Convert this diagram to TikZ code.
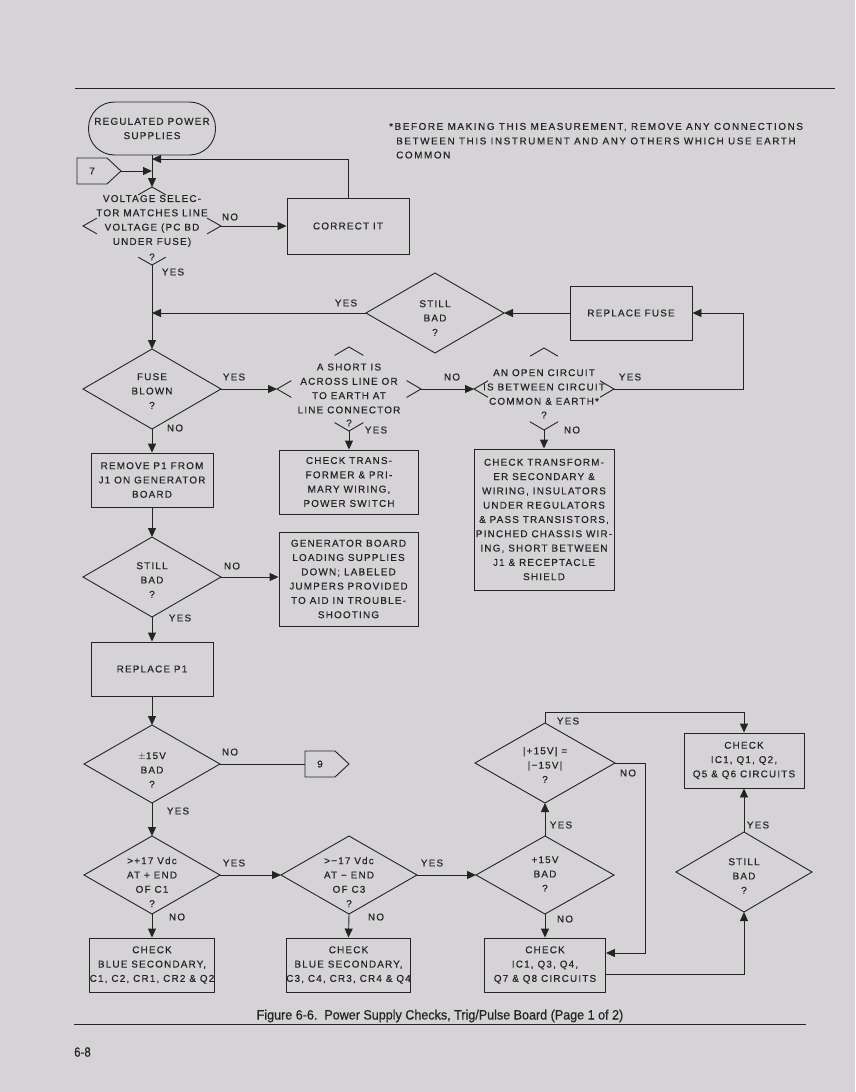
\documentclass[tikz,border=0pt]{standalone}
\usepackage{fontspec}
\setmainfont{Liberation Sans}
\newfontfamily\df{Liberation Sans}[LetterSpace=12,FakeBold=0.35]
\newfontfamily\nf{Liberation Sans}[LetterSpace=16,FakeBold=0.25]
\newfontfamily\capf{Liberation Sans}[FakeStretch=0.93,FakeBold=0.6]
\newfontfamily\pgf{Liberation Sans}[FakeStretch=0.85,FakeBold=0.4]
\usetikzlibrary{calc,arrows.meta}
\definecolor{ink}{RGB}{36,36,36}
\definecolor{paper}{RGB}{213,211,214}
\newcommand\fulldia[5]{%
  \coordinate (#1-n) at (#2,#3-#5);
  \coordinate (#1-s) at (#2,#3+#5);
  \coordinate (#1-e) at (#2+#4,#3);
  \coordinate (#1-w) at (#2-#4,#3);
  \draw[ln] (#1-n) -- (#1-e) -- (#1-s) -- (#1-w) -- cycle;}
\newcommand\cornerdia[6]{%
  \coordinate (#1-n) at (#2,#3-#5);
  \coordinate (#1-s) at (#2,#3+#5);
  \coordinate (#1-e) at (#2+#4,#3);
  \coordinate (#1-w) at (#2-#4,#3);
  \draw[ln] ($(#1-n)!#6!(#1-w)$) -- (#1-n) -- ($(#1-n)!#6!(#1-e)$)
            ($(#1-e)!#6!(#1-n)$) -- (#1-e) -- ($(#1-e)!#6!(#1-s)$)
            ($(#1-s)!#6!(#1-e)$) -- (#1-s) -- ($(#1-s)!#6!(#1-w)$)
            ($(#1-w)!#6!(#1-s)$) -- (#1-w) -- ($(#1-w)!#6!(#1-n)$);}
\begin{document}
\begin{tikzpicture}[x=1pt,y=-1pt,
  ln/.style={draw=ink, line width=0.9pt},
  arr/.style={ln, -{Triangle[length=9pt,width=8pt]}},
  txt/.style={font=\df\fontsize{9.9}{14.3}\selectfont, text=ink, align=center, inner sep=0pt},
  box/.style={ln, txt},
  lbl/.style={txt}]
\useasboundingbox (0,0) rectangle (855,1092);
\fill[paper] (0,0) rectangle (855,1092);
% rules
\draw[ln] (75,88) -- (835,88);
\draw[ln] (74,1024) -- (806,1024);
% note
\node[txt, font=\nf\fontsize{9.9}{14.3}\selectfont, anchor=west] (note1) at (389,127) {*BEFORE MAKING THIS MEASUREMENT, REMOVE ANY CONNECTIONS};
\node[txt, font=\nf\fontsize{9.9}{14.3}\selectfont, anchor=west] (note2) at (396,141) {BETWEEN THIS INSTRUMENT AND ANY OTHERS WHICH USE EARTH};
\node[txt, font=\nf\fontsize{9.9}{14.3}\selectfont, anchor=west] (note3) at (396,155) {COMMON};
% start
\node[box, minimum width=127, minimum height=53, rounded corners=26pt] (term) at (152,128.5) {REGULATED POWER\\SUPPLIES};
% connector 7
\draw[ln] (77,158) -- (107,158) -- (121,171) -- (107,184) -- (77,184) -- cycle;
\node[txt] (c7) at (92,171) {7};
\coordinate (c7tip) at (121,171);
\coordinate (j7) at (152,171);
\coordinate (j1) at (152,159);
% voltage selector
\cornerdia{vs}{152}{226}{69}{39}{0.2}
\node[txt] (vst) at (152,221) {VOLTAGE SELEC-\\TOR MATCHES LINE\\VOLTAGE (PC BD\\UNDER FUSE)};
\node[txt] (vsq) at (152,257) {?};
\node[box, minimum width=122, minimum height=56] (ci) at (348,226) {CORRECT IT};
\draw[arr] (term.south) -- (vs-n);
\draw[arr] (c7tip) -- (j7);
\draw[arr] (ci.north) |- (j1);
\draw[arr] (vs-e) -- (ci.west);
\node[lbl] at (230,217) {NO};
\node[lbl] at (173,272) {YES};
% still bad 1 / replace fuse
\fulldia{sb1}{435}{313}{69}{40}
\node[txt] (sb1t) at (435,318) {STILL\\BAD\\?};
\node[box, minimum width=122, minimum height=54] (rf) at (631,313) {REPLACE FUSE};
\coordinate (j2) at (152,313);
\draw[arr] (rf.west) -- (sb1-e);
\draw[arr] (sb1-w) -- (j2);
\node[lbl] at (346,303) {YES};
% fuse blown
\fulldia{fb}{152}{389}{69}{40}
\node[txt] (fbt) at (152,391) {FUSE\\BLOWN\\?};
\draw[arr] (vs-s) -- (fb-n);
% short
\cornerdia{sh}{349}{389}{72}{42}{0.2}
\node[txt] (sht) at (349,388.5) {A SHORT IS\\ACROSS LINE OR\\TO EARTH AT\\LINE CONNECTOR};
\node[txt] (shq) at (349,423) {?};
\draw[arr] (fb-e) -- (sh-w);
\node[lbl] at (234,377) {YES};
% open circuit
\cornerdia{oc}{544}{389}{70}{41}{0.2}
\node[txt] (oct) at (544,387) {AN OPEN CIRCUIT\\IS BETWEEN CIRCUIT\\COMMON \& EARTH*};
\node[txt] (ocq) at (544,415) {?};
\draw[arr] (sh-e) -- (oc-w);
\node[lbl] at (452,377) {NO};
\coordinate (k1) at (743,389);
\draw[arr] (oc-e) -- (k1) |- (rf.east);
\node[lbl] at (630,377) {YES};
% checks under short / open
\node[box, minimum width=139, minimum height=64] (ct) at (349,482) {CHECK TRANS-\\FORMER \& PRI-\\MARY WIRING,\\POWER SWITCH};
\draw[arr] (sh-s) -- (ct.north);
\node[lbl] at (376,430) {YES};
\node[box, minimum width=140, minimum height=141] (cs) at (544,519.5) {CHECK TRANSFORM-\\ER SECONDARY \&\\WIRING, INSULATORS\\UNDER REGULATORS\\\& PASS TRANSISTORS,\\PINCHED CHASSIS WIR-\\ING, SHORT BETWEEN\\J1 \& RECEPTACLE\\SHIELD};
\draw[arr] (oc-s) -- (cs.north);
\node[lbl] at (572,430) {NO};
% remove P1
\node[box, minimum width=122, minimum height=54] (rp) at (152,480) {REMOVE P1 FROM\\J1 ON GENERATOR\\BOARD};
\draw[arr] (fb-s) -- (rp.north);
\node[lbl] at (175,428) {NO};
% still bad 2
\fulldia{sb2}{152}{577}{69}{40}
\node[txt] (sb2t) at (152,580) {STILL\\BAD\\?};
\draw[arr] (rp.south) -- (sb2-n);
\node[box, minimum width=139, minimum height=94] (gb) at (348.5,579) {GENERATOR BOARD\\LOADING SUPPLIES\\DOWN; LABELED\\JUMPERS PROVIDED\\TO AID IN TROUBLE-\\SHOOTING};
\draw[arr] (sb2-e) -- (sb2-e -| gb.west);
\node[lbl] at (232,566) {NO};
% replace P1
\node[box, minimum width=122, minimum height=54] (rp1) at (152,669) {REPLACE P1};
\draw[arr] (sb2-s) -- (rp1.north);
\node[lbl] at (180,618) {YES};
% +-15V bad
\fulldia{pm}{152}{764}{68}{39}
\node[txt] (pmt) at (152,770) {$\pm$15V\\BAD\\?};
\draw[arr] (rp1.south) -- (pm-n);
\draw[ln] (305,751) -- (335,751) -- (349,764) -- (335,777) -- (305,777) -- cycle;
\node[txt] (c9) at (320,764) {9};
\coordinate (c9w) at (305,764);
\draw[ln] (pm-e) -- (c9w);
\node[lbl] at (230,752) {NO};
% >+17
\fulldia{da}{152}{875}{68}{39}
\node[txt] (dat) at (152,882) {>+17 Vdc\\AT + END\\OF C1\\?};
\draw[arr] (pm-s) -- (da-n);
\node[lbl] at (178,811) {YES};
\node[box, minimum width=122, minimum height=54] (ba) at (152,965) {CHECK\\BLUE SECONDARY,\\C1, C2, CR1, CR2 \& Q2};
\draw[arr] (da-s) -- (ba.north);
\node[lbl] at (177,917) {NO};
% >-17
\fulldia{db}{349}{875}{68}{39}
\node[txt] (dbt) at (349,882) {>−17 Vdc\\AT − END\\OF C3\\?};
\draw[arr] (da-e) -- (db-w);
\node[lbl] at (234,863) {YES};
\node[box, minimum width=123, minimum height=54] (bb) at (348.5,965) {CHECK\\BLUE SECONDARY,\\C3, C4, CR3, CR4 \& Q4};
\draw[arr] (db-s) -- (bb.north);
\node[lbl] at (376,917) {NO};
% +15V bad
\fulldia{dc}{545}{875}{69}{39}
\node[txt] (dct) at (545,874) {+15V\\BAD\\?};
\draw[arr] (db-e) -- (dc-w);
\node[lbl] at (432,863) {YES};
% |+15V| = |-15V|
\fulldia{dd}{545}{763}{70}{40}
\node[txt] (ddt) at (545,765) {|+15V| =\\|−15V|\\?};
\draw[arr] (dc-n) -- (dd-s);
\node[lbl] at (561,825) {YES};
% check boxes right
\node[box, minimum width=121, minimum height=54] (bc) at (545,965) {CHECK\\IC1, Q3, Q4,\\Q7 \& Q8 CIRCUITS};
\draw[arr] (dc-s) -- (bc.north);
\node[lbl] at (565,919) {NO};
\node[box, minimum width=120, minimum height=55] (bd) at (744,760.5) {CHECK\\IC1, Q1, Q2,\\Q5 \& Q6 CIRCUITS};
\coordinate (k2) at (545,712);
\draw[arr] (dd-n) -- (k2) -| (bd.north);
\node[lbl] at (568,721) {YES};
\coordinate (k3) at (645,763);
\coordinate (k4) at (645,953);
\draw[arr] (dd-e) -- (k3) -- (k4) -- (k4 -| bc.east);
\node[lbl] at (628,773) {NO};
% still bad 3
\fulldia{de}{744}{872}{68}{40}
\node[txt] (det) at (744,876) {STILL\\BAD\\?};
\coordinate (k5) at (605.5,974);
\coordinate (k6) at (744,974);
\draw[arr] (k5) -- (k6) -- (de-s);
\draw[arr] (de-n) -- (bd.south);
\node[lbl] at (758,825) {YES};
% caption
\node[font=\capf\fontsize{13.5}{15}\selectfont, text=ink, inner sep=0pt] (cap) at (440,1016) {Figure 6-6.\ \ Power Supply Checks, Trig/Pulse Board (Page 1 of 2)};
\node[font=\pgf\fontsize{13.5}{15}\selectfont, text=ink, inner sep=0pt, anchor=west] (pg) at (74,1052) {6-8};
\end{tikzpicture}
\end{document}
